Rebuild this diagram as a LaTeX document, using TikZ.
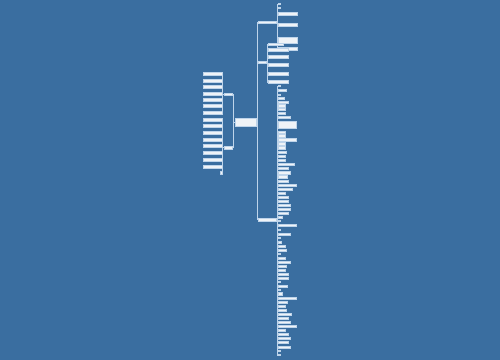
\documentclass[tikz,border=0pt]{standalone}
\usetikzlibrary{positioning}
\definecolor{bgblue}{RGB}{58,110,160}
\definecolor{linkblue}{RGB}{190,212,234}
\tikzset{box/.style={fill=white!92!bgblue,draw=linkblue,line width=0.2pt,inner sep=0pt,minimum height=1.3mm},
         link/.style={draw=linkblue,line width=0.5pt}}

\begin{document}
\begin{tikzpicture}[x=0.05cm,y=-0.05cm]
            \fill[bgblue] (0,0) rectangle (500,360);

            \node[box,minimum width=10.5mm,minimum height=4.2mm] (R) at (245.5,122) {};
            \node[box,minimum width=4mm,minimum height=1.1mm] (L1) at (228,94) {};
            \node[box,minimum width=4mm,minimum height=1.1mm] (L2) at (228,147.5) {};
            \node[box,anchor=west,minimum width=9mm,minimum height=1.1mm] (B1) at (258,22) {};
            \node[box,anchor=west,minimum width=4mm,minimum height=1.1mm] (B2) at (258,62) {};
            \node[box,anchor=west,minimum width=9mm,minimum height=1.1mm] (B3) at (258,219.5) {};

            \path[link]
            (R.west) -- ++(-2,0) |- (L1.east)
            (R.west) -- ++(-2,0) |- (L2.east)
            (R.east) -- ++(1.5,0) |- (B1.west)
            (R.east) -- ++(1.5,0) |- (B2.west)
            (R.east) -- ++(1.5,0) |- (B3.west);

            % left
            \foreach \y/\w [count=\i] in {73.5/19,80.5/19,86.5/19,93.5/19,99.5/19,106/19,113/19} {
                \node[box,anchor=east,minimum width=\w*0.5mm,minimum height=1.5mm] (a\i) at (222,\y) {};
                \path[link] (L1.west) -- ++(-1.5,0) |- (a\i.east);
            }
            \foreach \y/\w [count=\i] in {119.5/19,126/19,132.5/19,139.5/19,146/19,153/19,159.5/19,166.5/19,173/1.5} {
                \node[box,anchor=east,minimum width=\w*0.5mm,minimum height=1.5mm] (b\i) at (222,\y) {};
                \path[link] (L2.west) -- ++(-1.5,0) |- (b\i.east);
            }

            % right
            \foreach \y/\w/\h [count=\i] in {4/1.5/1,8/1.5/1,14/19/3,25/19/3,40/19/5.5,48.3/19/3} {
                \node[box,anchor=west,minimum width=\w*0.5mm,minimum height=\h*0.5mm] (c\i) at (278,\y) {};
                \path[link] (B1.east) -- ++(1,0) |- (c\i.west);
            }
            \foreach \y/\w/\h [count=\i] in {44/15/2.2,50/20/3,57/20/3,65/20/3,73.5/20/2.6,82/20/3} {
                \node[box,anchor=west,minimum width=\w*0.5mm,minimum height=\h*0.5mm] (d\i) at (268,\y) {};
                \path[link] (B2.east) -- ++(1,0) |- (d\i.west);
            }
            \foreach \y/\w/\h [count=\i] in {86/1.5/1,90/8/2.4,95/1.5/1,98/6/2.4,102/10/2.4,105.5/7/2.4,109/7/2.4,113/7/2.4,117/12/2.4,124.5/18/7,
                132/7/2.4,135.5/7/2.4,139.5/18/2.4,143.5/7/2.4,147.5/7/2.4,152/8/2.4,156/7/2.4,160/7/2.4,164/16/2.4,168/10/2.4,
                172.5/12/2.4,176.5/9/2.4,181/10/2.4,185/18/2.4,189/14/2.4,193/7/2.4,197/10/2.4,201/10/2.4,205/12/2.4,209/12/2.4,
                213/10/2.4,217/4/2.4,221/1.5/1,225/18/2.4,229.5/1.5/1,234/12/2.4,238/1.5/1,242/3/2.4,246/7/2.4,250/8/2.4,
                254/1.5/1,258/7/2.4,262/12/2.4,266/8/2.4,270/7/2.4,274/10/2.4,278/10/2.4,282/1.5/1,286/9/2.4,290/1.5/1,
                293.5/4/2.4,298/18/2.4,302/9/2.4,306/7/2.4,310/8/2.4,314/13/2.4,318/10/2.4,322/12/2.4,326/18/2.4,330/7/2.4,
                334/10/2.4,338/12/2.4,342/10/2.4,347/12/2.4,351/1.5/1,355/1.5/1} {
                \node[box,anchor=west,minimum width=\w*0.5mm,minimum height=\h*0.5mm] (e\i) at (278,\y) {};
                \path[link] (B3.east) -- ++(1,0) |- (e\i.west);
            }
        \end{tikzpicture}
\end{document}
